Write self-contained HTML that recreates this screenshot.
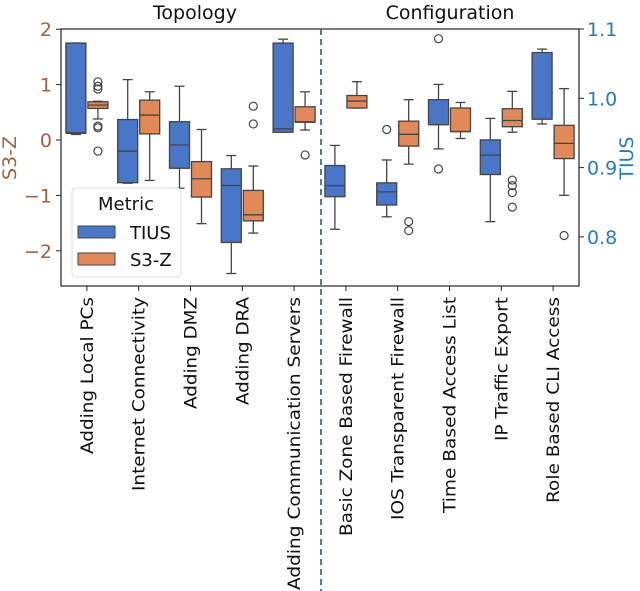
<!DOCTYPE html>
<html><head><meta charset="utf-8"><style>
body{margin:0;background:#fff;}
svg{display:block;font-family:"DejaVu Sans","Liberation Sans",sans-serif;}
</style></head><body>
<svg id="chart" width="640" height="591" viewBox="0 0 640 591">
<g id="plot"></g>
<text x="195" y="19" text-anchor="middle" font-size="19" fill="#111">Topology</text>
<text x="450" y="19" text-anchor="middle" font-size="19" fill="#111">Configuration</text>
<text transform="translate(16,158) rotate(-90)" text-anchor="middle" font-size="19" fill="#a0623f">S3-Z</text>
<text transform="translate(633,158) rotate(-90)" text-anchor="middle" font-size="19" fill="#2a7ab8">TIUS</text>
<g id="legend">
<rect x="72" y="188" width="109" height="89" rx="4" fill="#fff" fill-opacity="0.85" stroke="#ddd"/>
<text x="126" y="210" text-anchor="middle" font-size="18" fill="#111">Metric</text>
<rect x="78" y="226" width="37" height="12" fill="#4a76c8" stroke="#444"/>
<text x="130" y="239" font-size="18" fill="#111">TIUS</text>
<rect x="78" y="253" width="37" height="12" fill="#e2895a" stroke="#444"/>
<text x="130" y="266" font-size="18" fill="#111">S3-Z</text>
</g>
</svg>
<script>
const categories=["Adding Local PCs","Internet Connectivity","Adding DMZ","Adding DRA","Adding Communication Servers","Basic Zone Based Firewall","IOS Transparent Firewall","Time Based Access List","IP Traffic Export","Role Based CLI Access"];
const labelLengths=[157,194,112,108,293,239,223,216,144,206];
// [whiskerLow, q1, median, q3, whiskerHigh]; first 5 categories on left (S3-Z) axis, last 5 on right (TIUS) axis
const tiusStats=[[0.1,0.13,0.12,1.75,1.75],[-0.78,-0.77,-0.2,0.37,1.09],[-0.87,-0.51,-0.09,0.33,0.97],[-2.41,-1.85,-0.82,-0.52,-0.28],[0.14,0.14,0.2,1.75,1.82],
[0.811,0.858,0.874,0.903,0.932],[0.829,0.846,0.865,0.878,0.911],[0.927,0.962,0.962,0.998,1.02],[0.822,0.89,0.918,0.94,0.971],[0.963,0.97,0.97,1.066,1.071]];
const s3zStats=[[0.38,0.57,0.63,0.69,0.7],[-0.73,0.11,0.45,0.72,0.87],[-1.51,-1.03,-0.7,-0.39,0.19],[-1.68,-1.46,-1.35,-0.91,-0.47],[0.18,0.32,0.33,0.6,0.87],
[0.986,0.986,0.996,1.004,1.024],[0.905,0.931,0.948,0.967,0.998],[0.942,0.952,0.952,0.986,0.994],[0.951,0.959,0.968,0.985,1.01],[0.86,0.913,0.935,0.961,1.014]];
const tiusOutliers=[[],[],[],[],[],[],[0.955],[1.086,0.898],[],[]];
const s3zOutliers=[[1.05,0.97,0.92,0.25,0.22,-0.2],[],[],[0.61,0.29],[-0.27],[],[0.822,0.809],[],[0.882,0.874,0.864,0.843],[0.802]];
const leftTicks=[2,1,0,-1,-2];
const rightTicks=[1.1,1.0,0.9,0.8];

const NS="http://www.w3.org/2000/svg";
const g=document.getElementById('plot');
const L=61,R=579,T=29,B=286;
const yL=v=>140-v*55.4;
const yR=v=>29+(1.1-v)*693;
const xc=i=>L+(R-L)/10*(i+0.5);
function mk(tag,attrs,parent){const e=document.createElementNS(NS,tag);for(const k in attrs)e.setAttribute(k,attrs[k]);(parent||g).appendChild(e);return e;}

function drawBox(i,stats,outs,dx,fill,name){
  const y=i<5?yL:yR;
  const [wl,q1,med,q3,wh]=stats;
  const x=xc(i)+dx, w=20;
  const grp=mk('g',{});
  
  
  mk('line',{x1:x,x2:x,y1:y(q3),y2:y(wh),stroke:'#444','stroke-width':1.3},grp);
  mk('line',{x1:x,x2:x,y1:y(q1),y2:y(wl),stroke:'#444','stroke-width':1.3},grp);
  mk('line',{x1:x-5,x2:x+5,y1:y(wh),y2:y(wh),stroke:'#444','stroke-width':1.3},grp);
  mk('line',{x1:x-5,x2:x+5,y1:y(wl),y2:y(wl),stroke:'#444','stroke-width':1.3},grp);
  mk('rect',{x:x-w/2,y:y(q3),width:w,height:Math.max(1,y(q1)-y(q3)),fill:fill,stroke:'#444','stroke-width':1.3},grp);
  mk('line',{x1:x-w/2,x2:x+w/2,y1:y(med),y2:y(med),stroke:'#444','stroke-width':1.3},grp);
  outs.forEach(o=>mk('circle',{cx:x,cy:y(o),r:4,fill:'none',stroke:'#444','stroke-width':1.2},grp));
}
for(let i=0;i<10;i++){
  drawBox(i,tiusStats[i],tiusOutliers[i],-11,'#4a76c8','tius');
  drawBox(i,s3zStats[i],s3zOutliers[i],11,'#e2895a','s3z');
}
const fr=mk('rect',{x:L,y:T,width:R-L,height:B-T,fill:'none',stroke:'#222','stroke-width':1.2});


const dl=mk('line',{x1:321,x2:321,y1:29,y2:591,stroke:'#1f5f80','stroke-width':1.6,'stroke-dasharray':'6,4'});


leftTicks.forEach(v=>{
  mk('line',{x1:L-5,x2:L,y1:yL(v),y2:yL(v),stroke:'#222'});
  const t=mk('text',{x:L-9,y:yL(v)+7,'text-anchor':'end','font-size':19,fill:'#a0623f'});
  t.textContent=v<0?'\u2212'+(-v):String(v);
  
  
});
rightTicks.forEach(v=>{
  mk('line',{x1:R,x2:R+5,y1:yR(v),y2:yR(v),stroke:'#222'});
  const t=mk('text',{x:R+8,y:yR(v)+7,'font-size':19,fill:'#2a7ab8'});
  t.textContent=v.toFixed(1);
  
  
});
categories.forEach((c,i)=>{
  const x=xc(i);
  mk('line',{x1:x,x2:x,y1:B,y2:B+5,stroke:'#222'});
  const t=mk('text',{transform:`translate(${x+6},297) rotate(-90)`,'text-anchor':'end','font-size':17,fill:'#111',textLength:labelLengths[i],lengthAdjust:'spacingAndGlyphs'});
  t.textContent=c;
  
  
});
// keep legend on top
document.getElementById('chart').appendChild(document.getElementById('legend'));
</script>
</body></html>
